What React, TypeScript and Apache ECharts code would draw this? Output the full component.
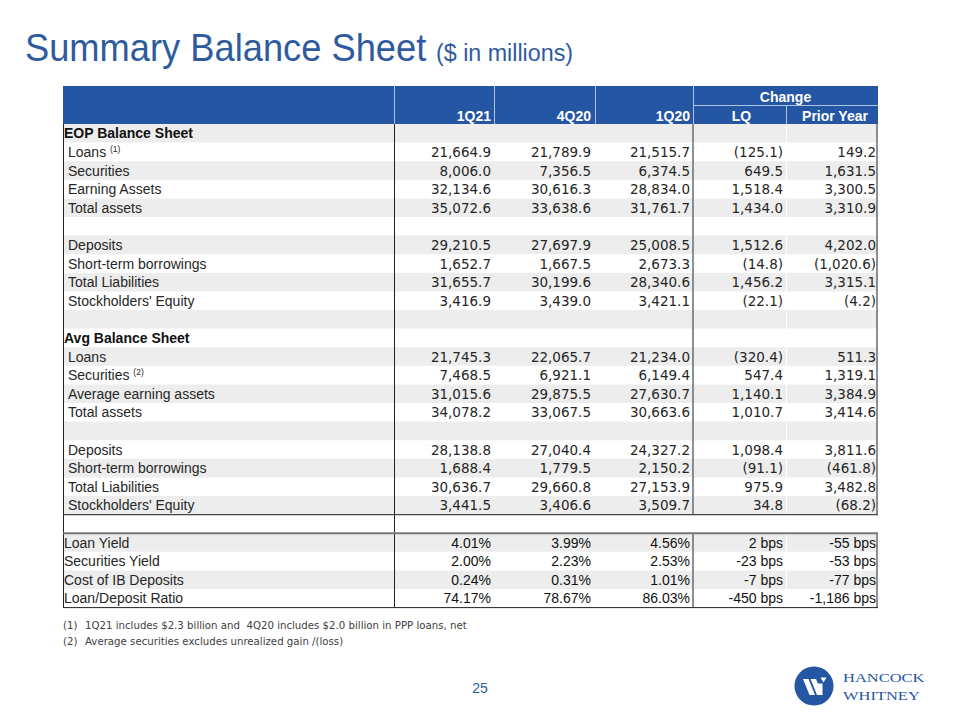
import React, { useEffect, useRef } from "react";
import * as echarts from "echarts";

// ---- Data ----
const columnHeaders = ["1Q21", "4Q20", "1Q20", "LQ", "Prior Year"];
const groupHeader = "Change";

const rowLabels = [
  "EOP Balance Sheet", "Loans", "Securities", "Earning Assets", "Total assets", "",
  "Deposits", "Short-term borrowings", "Total Liabilities", "Stockholders' Equity", "",
  "Avg Balance Sheet", "Loans", "Securities", "Average earning assets", "Total assets", "",
  "Deposits", "Short-term borrowings", "Total Liabilities", "Stockholders' Equity", "",
  "Loan Yield", "Securities Yield", "Cost of IB Deposits", "Loan/Deposit Ratio",
];
const rowNotes = ["", "(1)", "", "", "", "", "", "", "", "", "", "", "", "(2)", "", "", "", "", "", "", "", "", "", "", "", ""];
const rowKinds = [
  "section", "item", "item", "item", "item", "blank",
  "item", "item", "item", "item", "blank",
  "section", "item", "item", "item", "item", "blank",
  "item", "item", "item", "item", "blank",
  "rate", "rate", "rate", "rate",
];

const values1Q21 = [null, 21664.9, 8006.0, 32134.6, 35072.6, null, 29210.5, 1652.7, 31655.7, 3416.9, null,
  null, 21745.3, 7468.5, 31015.6, 34078.2, null, 28138.8, 1688.4, 30636.7, 3441.5, null,
  4.01, 2.00, 0.24, 74.17];
const values4Q20 = [null, 21789.9, 7356.5, 30616.3, 33638.6, null, 27697.9, 1667.5, 30199.6, 3439.0, null,
  null, 22065.7, 6921.1, 29875.5, 33067.5, null, 27040.4, 1779.5, 29660.8, 3406.6, null,
  3.99, 2.23, 0.31, 78.67];
const values1Q20 = [null, 21515.7, 6374.5, 28834.0, 31761.7, null, 25008.5, 2673.3, 28340.6, 3421.1, null,
  null, 21234.0, 6149.4, 27630.7, 30663.6, null, 24327.2, 2150.2, 27153.9, 3509.7, null,
  4.56, 2.53, 1.01, 86.03];
const changeLQ = [null, -125.1, 649.5, 1518.4, 1434.0, null, 1512.6, -14.8, 1456.2, -22.1, null,
  null, -320.4, 547.4, 1140.1, 1010.7, null, 1098.4, -91.1, 975.9, 34.8, null,
  2, -23, -7, -450];
const changePY = [null, 149.2, 1631.5, 3300.5, 3310.9, null, 4202.0, -1020.6, 3315.1, -4.2, null,
  null, 511.3, 1319.1, 3384.9, 3414.6, null, 3811.6, -461.8, 3482.8, -68.2, null,
  -55, -53, -77, -1186];

const footnotes = [
  ["(1)", "1Q21 includes $2.3 billion and  4Q20 includes $2.0 billion in PPP loans, net"],
  ["(2)", "Average securities excludes unrealized gain /(loss)"],
];

const titleMain = "Summary Balance Sheet";
const titleSub = "($ in millions)";
const pageNumber = "25";

// ---- Formatting ----
function fmtMoney(v: number | null): string {
  if (v === null || v === undefined) return "";
  const s = Math.abs(v).toLocaleString("en-US", { minimumFractionDigits: 1, maximumFractionDigits: 1 });
  return v < 0 ? `(${s})` : s;
}
function fmtPct(v: number | null): string {
  if (v === null || v === undefined) return "";
  return v.toFixed(2) + "%";
}
function fmtBps(v: number | null): string {
  if (v === null || v === undefined) return "";
  return v.toLocaleString("en-US") + " bps";
}

// ---- Layout ----
const BLUE = "#2556A3";
const TITLE_BLUE = "#2E5B9E";
const GRAY_ROW = "#EDEDED";
const TL = 63, TR = 878;
const HEAD_TOP = 86, HEAD_MID = 105, HEAD_BOT = 124;
const ROW_H = 18.6;
const colEdges = [63, 394, 494, 595, 693, 786, 878];
const valueRight = [491, 591, 690, 783, 876];
const NUM_FONT = "'DejaVu Sans', sans-serif";
const LBL_FONT = "'Liberation Sans', Arial, sans-serif";
const TEXT_COLOR = "#262626";

function buildGraphic() {
  const els: any[] = [];
  const nRows = rowLabels.length;
  const bottom = HEAD_BOT + nRows * ROW_H;
  const gapTop = HEAD_BOT + 21 * ROW_H;
  const gapBot = HEAD_BOT + 22 * ROW_H;

  els.push({ type: "rect", shape: { x: 0, y: 0, width: 960, height: 720 }, style: { fill: "#fff" }, z: 0 });

  // title
  els.push({
    type: "text", x: 25, y: 48, scaleX: 0.955, z: 5,
    style: { text: titleMain, fill: TITLE_BLUE, fontSize: 38, fontFamily: LBL_FONT, textAlign: "left", textVerticalAlign: "middle", align: "left", verticalAlign: "middle" },
  });
  els.push({
    type: "text", x: 436, y: 53, scaleX: 0.97, z: 5,
    style: { text: titleSub, fill: TITLE_BLUE, fontSize: 24, fontFamily: LBL_FONT, textAlign: "left", textVerticalAlign: "middle", align: "left", verticalAlign: "middle" },
  });

  // header
  els.push({ type: "rect", shape: { x: TL, y: HEAD_TOP, width: TR - TL, height: HEAD_BOT - HEAD_TOP }, style: { fill: BLUE }, z: 1 });
  const hdrLine = { stroke: "#AFC3E3", lineWidth: 1 };
  [colEdges[1], colEdges[2], colEdges[3], colEdges[4]].forEach((x) => {
    els.push({ type: "line", shape: { x1: x + 0.5, y1: HEAD_TOP, x2: x + 0.5, y2: HEAD_BOT }, style: hdrLine, z: 2 });
  });
  els.push({ type: "line", shape: { x1: colEdges[5] + 0.5, y1: HEAD_MID, x2: colEdges[5] + 0.5, y2: HEAD_BOT }, style: hdrLine, z: 2 });
  els.push({ type: "line", shape: { x1: colEdges[4], y1: HEAD_MID + 0.5, x2: TR, y2: HEAD_MID + 0.5 }, style: hdrLine, z: 2 });

  const hdrStyle = (text: string, align: string) => ({
    text, fill: "#fff", fontSize: 14, fontWeight: "bold", fontFamily: LBL_FONT,
    textAlign: align, align, textVerticalAlign: "middle", verticalAlign: "middle",
  });
  els.push({ type: "text", x: (colEdges[4] + colEdges[6]) / 2, y: (HEAD_TOP + HEAD_MID) / 2 + 1, style: hdrStyle(groupHeader, "center"), z: 3 });
  for (let c = 0; c < 3; c++) {
    els.push({ type: "text", x: valueRight[c], y: (HEAD_MID + HEAD_BOT) / 2 + 1, style: hdrStyle(columnHeaders[c], "right"), z: 3 });
  }
  els.push({ type: "text", x: (colEdges[4] + colEdges[5]) / 2 + 2, y: (HEAD_MID + HEAD_BOT) / 2 + 1, style: hdrStyle(columnHeaders[3], "center"), z: 3 });
  els.push({ type: "text", x: (colEdges[5] + colEdges[6]) / 2 + 3, y: (HEAD_MID + HEAD_BOT) / 2 + 1, style: hdrStyle(columnHeaders[4], "center"), z: 3 });

  // rows
  const cols = [values1Q21, values4Q20, values1Q20, changeLQ, changePY];
  for (let i = 0; i < nRows; i++) {
    const top = HEAD_BOT + i * ROW_H;
    const cy = top + ROW_H / 2;
    const kind = rowKinds[i];
    if (i % 2 === 0) {
      els.push({ type: "rect", shape: { x: TL, y: top, width: TR - TL, height: ROW_H }, style: { fill: GRAY_ROW }, z: 1 });
      els.push({ type: "line", shape: { x1: colEdges[5] + 0.5, y1: top, x2: colEdges[5] + 0.5, y2: top + ROW_H }, style: { stroke: "#fff", lineWidth: 1 }, z: 2 });
    }
    if (kind === "blank") continue;
    const isSection = kind === "section";
    const isRate = kind === "rate";
    const label = rowLabels[i];
    const note = rowNotes[i];
    els.push({
      type: "text", x: isSection || isRate ? 64 : 68, y: cy, z: 4,
      style: {
        text: note ? `${label} {sup|${note}}` : label,
        fill: isSection ? "#111" : TEXT_COLOR, fontSize: 14, fontFamily: LBL_FONT,
        fontWeight: isSection ? "bold" : "normal",
        textAlign: "left", align: "left", textVerticalAlign: "middle", verticalAlign: "middle",
        rich: { sup: { fontSize: 8.5, fontFamily: LBL_FONT, fill: TEXT_COLOR, verticalAlign: "top", padding: [0, 0, 6, 0] } },
      },
    });
    if (isSection) continue;
    for (let c = 0; c < 5; c++) {
      const v = cols[c][i];
      const txt = isRate ? (c < 3 ? fmtPct(v) : fmtBps(v)) : fmtMoney(v);
      els.push({
        type: "text", x: valueRight[c], y: cy, z: 4,
        style: {
          text: txt, fill: isRate ? "#111" : TEXT_COLOR,
          fontSize: isRate ? 14 : 13.5,
          fontFamily: isRate ? LBL_FONT : NUM_FONT,
          textAlign: "right", align: "right", textVerticalAlign: "middle", verticalAlign: "middle",
        },
      });
    }
  }

  // borders
  const dark = { stroke: "#222", lineWidth: 1 };
  const mid = { stroke: "#6b6b6b", lineWidth: 1.5 };
  els.push({ type: "line", shape: { x1: TL + 0.5, y1: HEAD_BOT, x2: TL + 0.5, y2: bottom }, style: dark, z: 3 });
  els.push({ type: "line", shape: { x1: colEdges[1] + 0.5, y1: HEAD_BOT, x2: colEdges[1] + 0.5, y2: bottom }, style: dark, z: 3 });
  [[HEAD_BOT, gapTop], [gapBot, bottom]].forEach(([a, b]) => {
    els.push({ type: "line", shape: { x1: colEdges[4], y1: a, x2: colEdges[4], y2: b }, style: mid, z: 3 });
    els.push({ type: "line", shape: { x1: TR - 1, y1: a, x2: TR - 1, y2: b }, style: mid, z: 3 });
  });
  els.push({ type: "line", shape: { x1: TL, y1: gapTop, x2: TR, y2: gapTop }, style: { stroke: "#444", lineWidth: 1.2 }, z: 3 });
  els.push({ type: "line", shape: { x1: TL, y1: gapBot, x2: TR, y2: gapBot }, style: { stroke: "#777", lineWidth: 2 }, z: 3 });
  els.push({ type: "line", shape: { x1: TL, y1: bottom, x2: TR, y2: bottom }, style: dark, z: 3 });

  // footnotes
  footnotes.forEach(([n, t], k) => {
    const y = 625 + k * 16;
    const fs = { fill: "#404040", fontSize: 10.2, fontFamily: NUM_FONT, textAlign: "left", align: "left", textVerticalAlign: "middle", verticalAlign: "middle" };
    els.push({ type: "text", x: 63, y, z: 4, style: { ...fs, text: n } });
    els.push({ type: "text", x: 85, y, z: 4, style: { ...fs, text: t } });
  });

  // page number
  els.push({ type: "text", x: 480, y: 688, z: 4, style: { text: pageNumber, fill: TITLE_BLUE, fontSize: 14, fontFamily: LBL_FONT, textAlign: "center", align: "center", textVerticalAlign: "middle", verticalAlign: "middle" } });

  // logo
  const lx = 795, ly = 667;
  els.push({ type: "circle", shape: { cx: lx + 19, cy: ly + 19, r: 19.5 }, style: { fill: BLUE }, z: 4 });
  const poly = (pts: number[][]) => ({ type: "polygon", shape: { points: pts.map(([x, y]) => [lx + x, ly + y]) }, style: { fill: "#fff" }, z: 5 });
  els.push(poly([[8, 12], [13.5, 12], [20, 28], [14.5, 28]]));
  els.push(poly([[15.5, 12], [21, 12], [27.5, 28], [22, 28]]));
  els.push(poly([[23, 16.5], [27.5, 16.5], [27.5, 28], [23, 28]]));
  els.push(poly([[25.5, 10.5], [31.5, 10.5], [28.5, 15.5]]));
  els.push({ type: "text", x: 843, y: 678, scaleX: 1.22, z: 5, style: { text: "HANCOCK", fill: BLUE, fontSize: 13.5, fontFamily: "'Liberation Serif', serif", textAlign: "left", align: "left", textVerticalAlign: "middle", verticalAlign: "middle" } });
  els.push({ type: "text", x: 843, y: 696, scaleX: 1.22, z: 5, style: { text: "WHITNEY", fill: BLUE, fontSize: 13.5, fontFamily: "'Liberation Serif', serif", textAlign: "left", align: "left", textVerticalAlign: "middle", verticalAlign: "middle" } });

  return els;
}

export default function App() {
  const ref = useRef<HTMLDivElement>(null);
  useEffect(() => {
    if (!ref.current) return;
    const chart = echarts.init(ref.current, undefined, { renderer: "svg" });
    chart.setOption({
      animation: false,
      backgroundColor: "#fff",
      graphic: { elements: buildGraphic() },
    });
    return () => chart.dispose();
  }, []);
  return <div ref={ref} style={{ position: "fixed", left: 0, top: 0, width: 960, height: 720 }} />;
}
